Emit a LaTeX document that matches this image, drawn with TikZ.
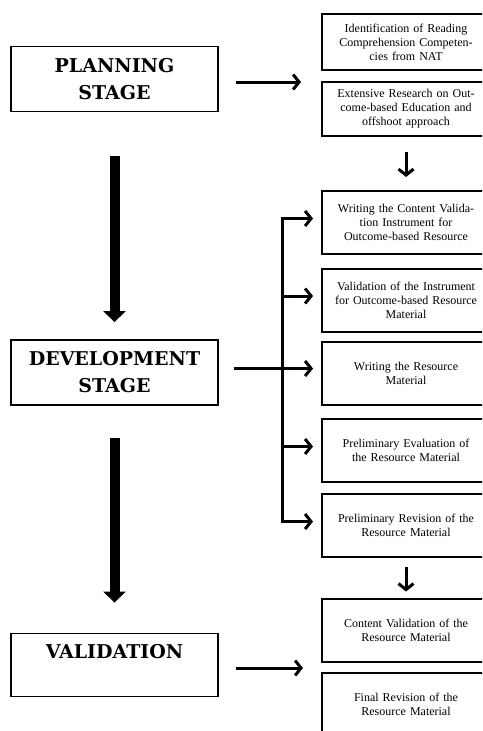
\documentclass[tikz,border=0pt]{standalone}
\usepackage{fontspec}
\setmainfont{Liberation Serif}
\newfontfamily\stagefont{DejaVu Serif}
\usepackage{tikz}
\usetikzlibrary{arrows.meta,shapes}
\tikzstyle{stage} = [draw, line width=1.8pt, minimum width=207pt, minimum height=65pt, align=center, font=\stagefont\bfseries\fontsize{19}{27}\selectfont]
\tikzstyle{stepbox} = [draw, line width=2pt, text width=150pt, inner xsep=9pt, minimum height=63pt, align=center, font=\fontsize{12}{14}\selectfont]
\tikzstyle{arr} = [line width=3pt, -{Straight Barb[length=6pt,width=15pt]}]
\tikzstyle{bigarr} = [line width=10pt, -{Triangle[length=11pt,width=22pt]}]

\begin{document}
\begin{tikzpicture}[x=1pt,y=-1pt]
		\useasboundingbox (0,0) rectangle (482,731);
		\begin{scope}
		\clip (0,0) rectangle (482,731);
		
		% stages
		\node[stage] (plan) at (114.5,79) {PLANNING\\STAGE};
		\node[stage] (dev) at (114.5,372.5) {DEVELOPMENT\\STAGE};
		\node[stage, minimum height=63pt] (val) at (114.5,665) {VALIDATION\\\mbox{}};
		
		% steps
		\node[stepbox, minimum height=56pt] (b1) at (406,42) {Identification of Reading\\Comprehension Competen-\\cies from NAT};
		\node[stepbox, minimum height=54pt] (b2) at (406,109) {Extensive Research on Out-\\come-based Education and\\offshoot approach};
		\node[stepbox] (b3) at (406,222.5) {Writing the Content Valida-\\tion Instrument for\\Outcome-based Resource};
		\node[stepbox] (b4) at (406,300) {Validation of the Instrument\\for Outcome-based Resource\\Material};
		\node[stepbox] (b5) at (406,373) {Writing the Resource\\Material};
		\node[stepbox] (b6) at (406,450.5) {Preliminary Evaluation of\\the Resource Material};
		\node[stepbox] (b7) at (406,525.5) {Preliminary Revision of the\\Resource Material};
		\node[stepbox] (b8) at (406,630) {Content Validation of the\\Resource Material};
		\node[stepbox] (b9) at (406,704) {Final Revision of the\\Resource Material};
		
		% stage to stage
		\draw[bigarr, shorten <=44pt, shorten >=17pt] (plan) -- (dev);
		\draw[bigarr, shorten <=32pt, shorten >=30pt] (dev) -- (val);
		
		% stage to steps
		\draw[arr, shorten <=17pt, shorten >=20pt] ([yshift=-3pt]plan.east) -- ([yshift=-3pt]plan.east -| b1.west);
		\draw[arr, shorten <=15pt, shorten >=13pt] (b2) -- (b3);
		\draw[arr, shorten <=9pt, shorten >=6pt] (b7) -- (b8);
		\draw[arr, shorten <=17pt, shorten >=18pt] ([yshift=-3pt]val.east) -- ([yshift=-3pt]val.east -| b8.west);
		
		\coordinate (br) at ([xshift=64pt]dev.east);
		\draw[line width=3pt, line cap=rect] ([yshift=4pt]b3.west -| br) -- ([yshift=4pt]b7.west -| br);
		\foreach \b in {b3,b4,b6,b7}
		\draw[arr, shorten >=8pt] ([yshift=4pt]\b.west -| br) -- ([yshift=4pt]\b.west);
		\draw[arr, shorten <=15pt, shorten >=8pt] ([yshift=4pt]dev.east) -- ([yshift=4pt]dev.east -| b5.west);
		\end{scope}
	\end{tikzpicture}
\end{document}
